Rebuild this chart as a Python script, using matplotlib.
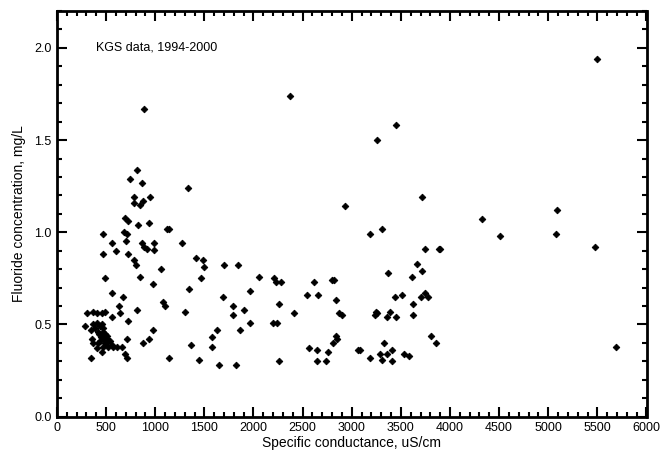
import matplotlib.pyplot as plt
from matplotlib.ticker import MultipleLocator, FormatStrFormatter

plt.rcParams['font.family'] = ['Liberation Sans', 'DejaVu Sans']

# specific conductance (uS/cm) and fluoride (mg/L)
cond_high = [886, 2373, 3259, 3452, 5499]
fl_high = [1.67, 1.74, 1.50, 1.58, 1.94]

cond_upper_left = [818, 740, 868, 784, 781, 872, 848, 944, 689, 722, 828, 933,
                   1124, 1144, 465, 680, 710, 702, 560, 602, 465, 722, 862, 887,
                   913, 983, 987, 784, 803, 1057, 490, 845, 975]
fl_upper_left = [1.34, 1.29, 1.27, 1.19, 1.16, 1.17, 1.15, 1.19, 1.08, 1.06, 1.04, 1.05,
                 1.02, 1.02, 0.99, 1.00, 0.99, 0.955, 0.94, 0.90, 0.88, 0.88, 0.94, 0.92,
                 0.91, 0.94, 0.905, 0.85, 0.82, 0.80, 0.75, 0.76, 0.72]

cond_mid = [1334, 1273, 1412, 1487, 1497, 1466, 1344, 1300, 1701, 1843, 2054, 2210,
            2230, 2281, 1962, 1687, 1789, 1789, 1904, 2257, 2410, 1962, 2203, 2243,
            1629, 1578, 1864, 1575, 1365, 1141, 1446, 1646, 1823, 2257, 1076, 1097]
fl_mid = [1.24, 0.94, 0.86, 0.85, 0.81, 0.75, 0.69, 0.57, 0.82, 0.82, 0.76, 0.75,
          0.73, 0.73, 0.68, 0.65, 0.60, 0.55, 0.58, 0.61, 0.56, 0.51, 0.51, 0.51,
          0.47, 0.43, 0.47, 0.38, 0.39, 0.32, 0.31, 0.28, 0.28, 0.30, 0.62, 0.60]

cond_right = [2933, 3717, 3184, 3310, 3367, 2620, 2803, 2824, 3612, 3663, 3717, 3744,
              3885, 3900, 2543, 2658, 2841, 2868, 2899, 3248, 3238, 3256, 3388, 3357,
              3449, 3438, 3513, 3625, 3622, 3704, 3741, 3775, 2569, 2645, 2760, 2807,
              2841, 2851, 2645, 2739, 3068, 3089, 3184, 3286, 3330, 3310, 3360, 3411,
              3411, 3534, 3585, 3805, 3856]
fl_right = [1.14, 1.19, 0.99, 1.02, 0.78, 0.73, 0.74, 0.74, 0.76, 0.83, 0.79, 0.91,
            0.91, 0.91, 0.66, 0.66, 0.635, 0.56, 0.55, 0.57, 0.55, 0.56, 0.57, 0.54,
            0.54, 0.65, 0.66, 0.61, 0.55, 0.65, 0.67, 0.65, 0.37, 0.36, 0.35, 0.40,
            0.44, 0.42, 0.30, 0.30, 0.36, 0.36, 0.32, 0.34, 0.40, 0.31, 0.34, 0.36,
            0.30, 0.34, 0.33, 0.44, 0.40]

cond_far = [4324, 4508, 5085, 5078, 5475, 5693]
fl_far = [1.07, 0.98, 1.12, 0.99, 0.92, 0.38]

cond_low_left = [563, 669, 631, 818, 641, 560, 309, 370, 410, 455, 492, 726, 288, 346,
                 370, 404, 438, 458, 472, 387, 421, 455, 489, 506, 540, 557, 573, 438,
                 421, 472, 455, 523, 353, 363, 404, 345, 608, 659, 710, 690, 712, 879,
                 937, 975, 430, 445, 480, 500, 465, 510, 490, 520]
fl_low_left = [0.67, 0.65, 0.60, 0.58, 0.56, 0.54, 0.56, 0.57, 0.56, 0.56, 0.57, 0.52, 0.49, 0.47,
               0.50, 0.51, 0.49, 0.50, 0.48, 0.48, 0.46, 0.44, 0.45, 0.42, 0.41, 0.39, 0.38, 0.41,
               0.40, 0.38, 0.35, 0.38, 0.42, 0.40, 0.37, 0.32, 0.38, 0.38, 0.42, 0.34, 0.32, 0.40,
               0.42, 0.47, 0.45, 0.43, 0.42, 0.40, 0.46, 0.44, 0.40, 0.41]

cond = cond_high + cond_upper_left + cond_mid + cond_right + cond_far + cond_low_left
fluoride = fl_high + fl_upper_left + fl_mid + fl_right + fl_far + fl_low_left

fig = plt.figure(figsize=(6.69, 4.58), dpi=100)
ax = fig.add_axes([57 / 669, 41.3 / 458, 589.5 / 669, 405.7 / 458])

ax.plot(cond, fluoride, linestyle='none', marker='D', markersize=3.4,
        color='black', markeredgewidth=0.6)

ax.set_xlim(0, 6000)
ax.set_ylim(0, 2.2)
ax.xaxis.set_major_locator(MultipleLocator(500))
ax.xaxis.set_minor_locator(MultipleLocator(100))
ax.yaxis.set_major_locator(MultipleLocator(0.5))
ax.yaxis.set_minor_locator(MultipleLocator(0.1))
ax.yaxis.set_major_formatter(FormatStrFormatter('%.1f'))

ax.tick_params(which='both', direction='in', top=True, right=True,
               width=1.5, labelsize=9, color='black')
ax.tick_params(which='major', length=7.5, pad=4)
ax.tick_params(which='minor', length=3.5)
for s in ax.spines.values():
    s.set_linewidth(2)

ax.set_xlabel('Specific conductance, uS/cm', fontsize=10, labelpad=1)
ax.set_ylabel('Fluoride concentration, mg/L', fontsize=10, labelpad=6)

ax.text(394, 2.0, 'KGS data, 1994-2000', fontsize=9, ha='left', va='center')

plt.savefig('out.png', dpi=100)
